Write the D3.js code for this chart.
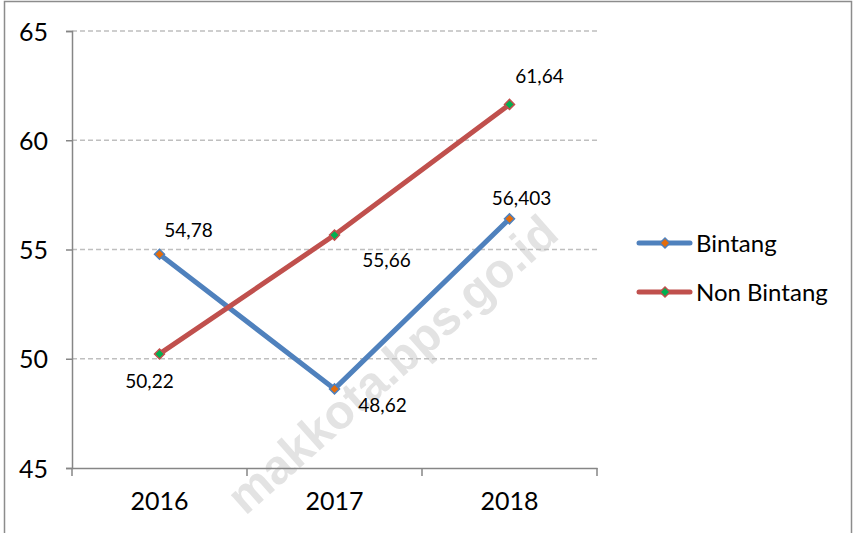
<!DOCTYPE html>
<html><head><meta charset="utf-8">
<script src="https://cdn.jsdelivr.net/npm/d3@7"></script>
<style>body{margin:0;background:#fff;}svg{display:block;font-family:Lato,"Open Sans",sans-serif;}</style>
</head><body>
<svg id="c" width="857" height="533"></svg>
<script>
const years = ["2016","2017","2018"];
const bintang = [54.78, 48.62, 56.403];
const nonBintang = [50.22, 55.66, 61.64];
const bintangLabels = ["54,78","48,62","56,403"];
const nonBintangLabels = ["50,22","55,66","61,64"];
const yTicks = [45,50,55,60,65];
const seriesNames = ["Bintang","Non Bintang"];

const FONT = "Lato,'Open Sans',sans-serif";
const svg = d3.select("#c");
svg.append("rect").attr("x",4.5).attr("y",1.5).attr("width",847).attr("height",540)
  .attr("fill","none").attr("stroke","#8c8c8c").attr("stroke-width",1.5);

const x = d3.scaleBand().domain(years).range([72,597]);
const y = d3.scaleLinear().domain([45,65]).range([468,31]);

// watermark
svg.append("text").attr("transform","translate(392,364) rotate(-41.5)")
  .attr("text-anchor","middle").attr("dy","0.35em").attr("font-size",48).attr("font-weight","bold")
  .attr("font-family","'Liberation Sans',Arial,sans-serif")
  .attr("fill","#e3e3e3").text("makkota.bps.go.id");

// gridlines
svg.append("g").selectAll("line").data(yTicks.filter(d=>d>45)).join("line")
  .attr("x1",72).attr("x2",598).attr("y1",d=>y(d)).attr("y2",d=>y(d))
  .attr("stroke","#bfbfbf").attr("stroke-width",1.3).attr("stroke-dasharray","5,3");

// axes
const ya = svg.append("g").attr("transform","translate(72,0)")
  .call(d3.axisLeft(y).tickValues(yTicks).tickSize(6).tickPadding(18));
ya.select(".domain").attr("stroke","#868686").attr("stroke-width",1.5);
ya.selectAll(".tick line").attr("stroke","#868686").attr("stroke-width",1.5);
ya.selectAll("text").attr("font-size",25).attr("fill","#000").attr("font-family",FONT).attr("dy","0.36em");

const xa = svg.append("g").attr("transform","translate(0,468)")
  .call(d3.axisBottom(x).tickSize(0).tickPadding(24));
xa.select(".domain").attr("stroke","#868686").attr("stroke-width",1.5);
xa.selectAll(".tick line").remove();
xa.selectAll("text").attr("font-size",25).attr("fill","#000").attr("font-family",FONT);
svg.append("g").selectAll("line").data([72,...years.map(d=>x(d)+x.bandwidth())]).join("line")
  .attr("x1",d=>d).attr("x2",d=>d).attr("y1",468).attr("y2",476)
  .attr("stroke","#868686").attr("stroke-width",1.5);

const cx = d=>x(d)+x.bandwidth()/2;
const series = [
  {vals:bintang, labels:bintangLabels, color:"#4F81BD", mark:"#E46C0A", off:[[29,-24],[48,16],[12,-21]]},
  {vals:nonBintang, labels:nonBintangLabels, color:"#C0504D", mark:"#00B050", off:[[-10,27],[52,25],[30,-28]]}
];
const line = d3.line().x((d,i)=>cx(years[i])).y(d=>y(d));
series.forEach(s=>{
  svg.append("path").attr("d",line(s.vals)).attr("fill","none")
    .attr("stroke",s.color).attr("stroke-width",5).attr("stroke-linejoin","miter");
});
series.forEach(s=>{
  svg.append("g").selectAll("path").data(s.vals).join("path")
    .attr("d",d3.symbol().type(d3.symbolSquare).size(50))
    .attr("transform",(d,i)=>`translate(${cx(years[i])},${y(d)}) rotate(45)`)
    .attr("fill",s.mark).attr("stroke",s.color).attr("stroke-width",1.5);
  svg.append("g").selectAll("text").data(s.vals).join("text")
    .attr("x",(d,i)=>cx(years[i])+s.off[i][0]).attr("y",(d,i)=>y(d)+s.off[i][1])
    .attr("text-anchor","middle").attr("dy","0.36em").attr("font-size",19).attr("fill","#000")
    .text((d,i)=>s.labels[i]);
});

// legend
const lg = svg.append("g");
series.forEach((s,i)=>{
  const ly = 243 + i*49;
  lg.append("line").attr("x1",639).attr("x2",690).attr("y1",ly).attr("y2",ly)
    .attr("stroke",s.color).attr("stroke-width",5).attr("stroke-linecap","round");
  lg.append("path").attr("d",d3.symbol().type(d3.symbolSquare).size(50))
    .attr("transform",`translate(665,${ly}) rotate(45)`)
    .attr("fill",s.mark).attr("stroke",s.color).attr("stroke-width",1.5);
  lg.append("text").attr("x",696).attr("y",ly).attr("dy","0.36em")
    .attr("font-size",24).attr("fill","#000").text(seriesNames[i]);
});
</script>
</body></html>
